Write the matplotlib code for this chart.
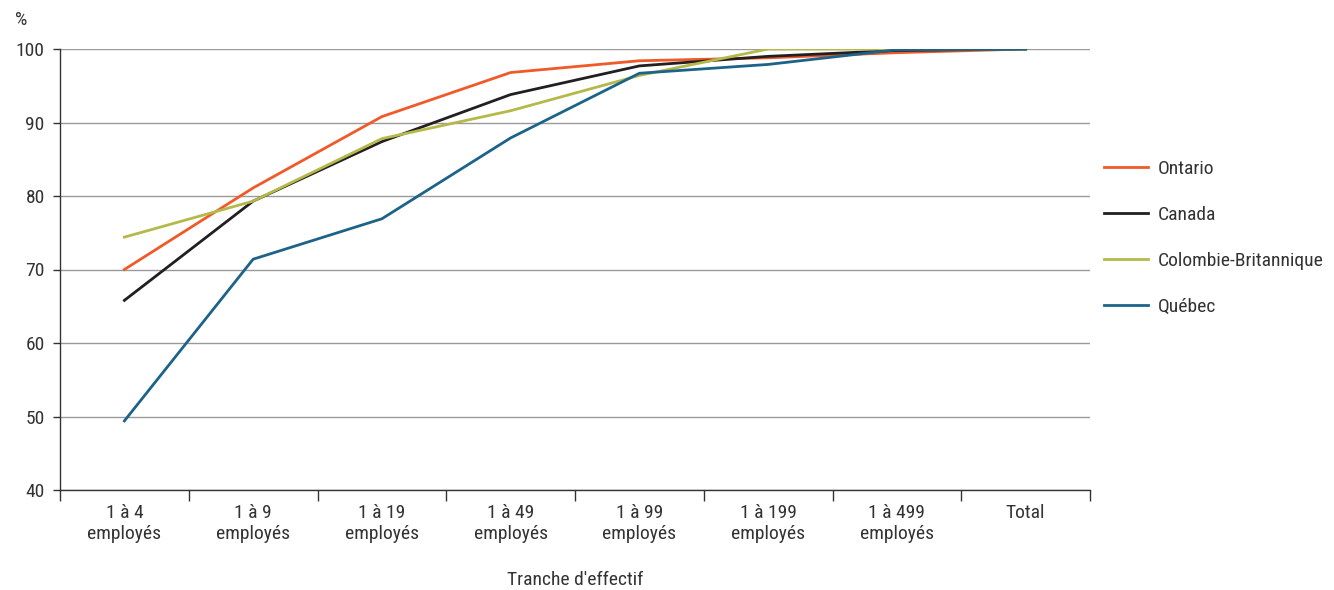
import matplotlib.pyplot as plt
from matplotlib import font_manager
import numpy as np

installed = {f.name for f in font_manager.fontManager.ttflist}
for fam in ["Liberation Sans Narrow", "Roboto Condensed", "Open Sans Condensed", "Liberation Sans"]:
    if fam in installed:
        base_font = fam
        break
else:
    base_font = "DejaVu Sans"
narrow = base_font != "Liberation Sans" and base_font != "DejaVu Sans"
plt.rcParams['font.family'] = [base_font, 'DejaVu Sans']
fs = 14 if narrow else 12

categories = ["1 à 4\nemployés", "1 à 9\nemployés", "1 à 19\nemployés", "1 à 49\nemployés",
              "1 à 99\nemployés", "1 à 199\nemployés", "1 à 499\nemployés", "Total"]

ontario = [70.0, 81.1, 90.8, 96.8, 98.4, 98.8, 99.5, 100.0]
canada = [65.8, 79.3, 87.4, 93.8, 97.7, 99.0, 99.8, 100.0]
colombie_britannique = [74.4, 79.3, 87.8, 91.6, 96.4, 100.0, 100.0, 100.0]
quebec = [49.4, 71.4, 76.9, 87.9, 96.7, 97.9, 99.9, 100.0]

series = [
    ("Ontario", ontario, "#F05A28"),
    ("Canada", canada, "#231F20"),
    ("Colombie-Britannique", colombie_britannique, "#B4B94A"),
    ("Québec", quebec, "#1C6389"),
]

fig = plt.figure(figsize=(13.34, 5.90), dpi=100)
ax = fig.add_axes([60 / 1334, 1 - 490 / 590, 1030 / 1334, 441 / 590])

x = np.arange(len(categories))
for name, vals, color in series:
    ax.plot(x, vals, color=color, linewidth=2.0, label=name)

ax.set_xlim(-0.5, len(categories) - 0.5)
ax.set_ylim(40, 100)
ax.set_yticks(range(40, 101, 10))
ax.yaxis.grid(True, color="#9a9a9a", linewidth=1)
ax.set_axisbelow(True)

# category boundaries carry the tick marks, centres carry the labels
ax.set_xticks(x)
ax.set_xticklabels(categories, fontsize=fs, color="#333333", linespacing=1.25)
ax.set_xticks(np.arange(-0.5, len(categories)), minor=True)
ax.tick_params(axis="x", which="major", length=0, pad=10)
ax.tick_params(axis="x", which="minor", length=8, width=1, color="#333333", direction="out")
ax.tick_params(axis="y", length=5, width=1, color="#333333", labelsize=fs, labelcolor="#333333", pad=6)

for side in ["top", "right"]:
    ax.spines[side].set_visible(False)
for side in ["left", "bottom"]:
    ax.spines[side].set_color("#333333")
    ax.spines[side].set_linewidth(1)

ax.set_xlabel("Tranche d'effectif", fontsize=fs, color="#333333", labelpad=20)
fig.text(15 / 1334, 1 - 20 / 590, "%", fontsize=fs, color="#333333", va="center", ha="left")

ax.legend(loc="upper left", bbox_to_anchor=(1.0, 0.78), frameon=False, fontsize=fs,
          handlelength=2.3, handletextpad=0.5, labelspacing=1.45, borderaxespad=0.3,
          labelcolor="#333333")

fig.savefig("out.png", dpi=100)
plt.close(fig)
